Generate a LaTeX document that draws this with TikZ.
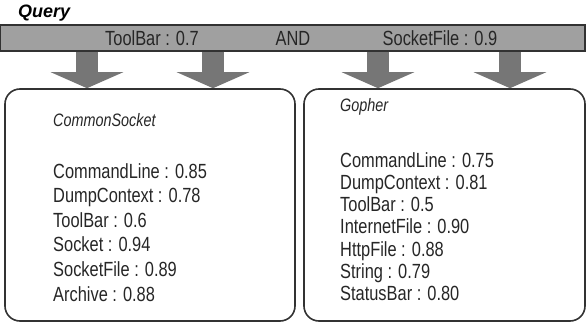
\documentclass[tikz,border=0pt]{standalone}
\usepackage{fontspec}
\setmainfont{Liberation Sans}[FakeStretch=0.8]
\newfontfamily\titlesans{Liberation Sans}
\usetikzlibrary{arrows.meta,positioning}
\definecolor{barfill}{RGB}{160,160,160}
\definecolor{arrowfill}{RGB}{118,118,118}
\definecolor{edgegray}{RGB}{50,50,50}
\tikzset{
  querytitle/.style={font=\titlesans\fontsize{18}{22}\selectfont\bfseries\itshape, inner sep=0pt},
  querybar/.style={draw=edgegray, line width=1.3pt, fill=barfill, minimum width=585pt, minimum height=26pt, inner sep=0pt},
  bartext/.style={font=\fontsize{20.5}{24}\selectfont, text=black!85, inner sep=0pt},
  classbox/.style={draw=edgegray, line width=1.6pt, rounded corners=15pt, inner sep=0pt},
  classname/.style={font=\fontsize{18}{22}\selectfont\itshape, text=black!85, anchor=base west, inner sep=0pt},
  termlist/.style={align=left, anchor=north west, inner sep=0pt, text=black!85},
  fatarrow/.style={draw=arrowfill, line width=22pt, -{Triangle[width=72pt,length=16pt]}}
}

\begin{document}
\begin{tikzpicture}[x=1pt, y=-1pt]
  \useasboundingbox (0,0) rectangle (587,323);
  \node[querytitle, anchor=base west] (qt) at (18,18) {Query};
  \node[querybar] (bar) at (292.5,38) {};
  \node[bartext] (lhs) at (152,38) {ToolBar : 0.7};
  \node[bartext] (and) at (293,38) {AND};
  \node[bartext] (rhs) at (440,38) {SocketFile : 0.9};

  \node[classbox, minimum width=290pt, minimum height=232pt] (cs) at (150,205) {};
  \node[classbox, minimum width=281pt, minimum height=232pt] (go) at (444.5,205) {};

  \node[classname] (csname) at (53,127) {CommonSocket};
  \node[termlist, font=\fontsize{20.5}{24.6}\selectfont] (csterms) at (53,163)
    {CommandLine : 0.85\\DumpContext : 0.78\\ToolBar : 0.6\\Socket : 0.94\\SocketFile : 0.89\\Archive : 0.88};
  \node[classname] (goname) at (340,112) {Gopher};
  \node[termlist, font=\fontsize{20.5}{22.2}\selectfont] (goterms) at (340,152.3)
    {CommandLine : 0.75\\DumpContext : 0.81\\ToolBar : 0.5\\InternetFile : 0.90\\HttpFile : 0.88\\String : 0.79\\StatusBar : 0.80};

  \draw[fatarrow] (bar.south -| 87,0) -- (cs.north -| 87,0);
  \draw[fatarrow] (bar.south -| 213,0) -- (cs.north -| 213,0);
  \draw[fatarrow] (bar.south -| 378,0) -- (go.north -| 378,0);
  \draw[fatarrow] (bar.south -| 510,0) -- (go.north -| 510,0);
\end{tikzpicture}
\end{document}
